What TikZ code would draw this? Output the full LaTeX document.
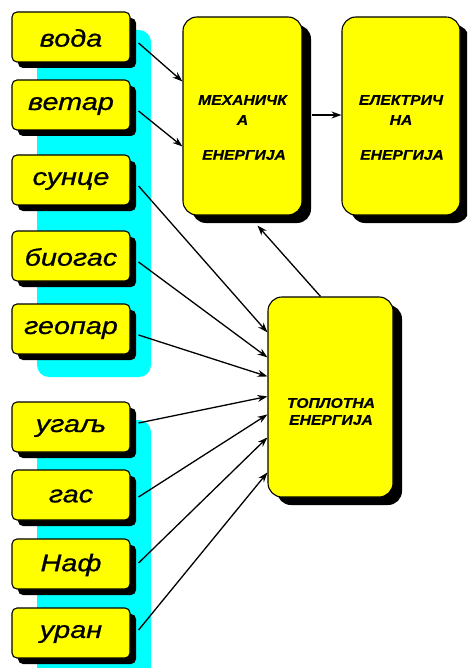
\documentclass[tikz,border=0pt]{standalone}
\usepackage{fontspec}
\newfontfamily\labfont{Liberation Sans}
\newfontfamily\srcfont{Liberation Sans Italic}[FakeBold=0.7]
\newfontfamily\bigfont{Liberation Sans Bold Italic}[FakeBold=0.4]
\usetikzlibrary{shadows,calc,arrows.meta}
\definecolor{boxyellow}{RGB}{255,255,0}
\definecolor{bgcyan}{RGB}{0,255,255}
\tikzset{
  srcbox/.style={draw=black, line width=1.1pt, fill=boxyellow, rounded corners=5pt,
    minimum width=118pt, minimum height=50pt, inner sep=0pt,
    drop shadow={shadow xshift=6pt, shadow yshift=-6pt, fill=black, opacity=1}},
  bigbox/.style={draw=black, line width=1.1pt, fill=boxyellow, rounded corners=14pt,
    inner sep=0pt,
    drop shadow={shadow xshift=9pt, shadow yshift=-8pt, fill=black, opacity=1}},
  srctext/.style={font=\srcfont\fontsize{24}{28}\selectfont, inner sep=0pt},
  bigtext/.style={font=\bigfont\fontsize{14}{16}\selectfont, inner sep=0pt},
  arr/.style={line width=1.3pt, -{Stealth[length=10pt,width=7pt]}},
  bgpanel/.style={fill=bgcyan, rounded corners=12pt}
}
\newcommand{\wide}[1]{\scalebox{1.2}[1]{#1}}
\newcommand{\bwide}[1]{\scalebox{1.12}[1]{#1}}
\begin{document}
\begin{tikzpicture}[x=1pt,y=-1pt]
\useasboundingbox (0,0) rectangle (467,668);
\clip (0,0) rectangle (467,668);
% cyan panels
\path[bgpanel] (37,30) rectangle (151,377);
\path[bgpanel] (37,420) rectangle (151,700);
% source boxes
\node[srcbox] (voda)   at (71,37)  {};
\node[srcbox] (vetar)  at (71,105) {};
\node[srcbox] (sunce)  at (71,180) {};
\node[srcbox] (biogas) at (71,256) {};
\node[srcbox] (geopar) at (71,329) {};
\node[srcbox] (ugalj)  at (71,427) {};
\node[srcbox] (gas)    at (71,495) {};
\node[srcbox] (naf)    at (71,564) {};
\node[srcbox] (uran)   at (71,633) {};
\node[srctext] (tvoda)   at (71,38)  {\wide{вода}};
\node[srctext] (tvetar)  at (71,106) {\wide{ветар}};
\node[srctext] (tsunce)  at (71,181) {\wide{сунце}};
\node[srctext] (tbiogas) at (71,257) {\wide{биогас}};
\node[srctext] (tgeopar) at (71,330) {\wide{геопар}};
\node[srctext] (tugalj)  at (71,428) {\wide{угаљ}};
\node[srctext] (tgas)    at (71,496) {\wide{гас}};
\node[srctext] (tnaf)    at (71,565) {\wide{Наф}};
\node[srctext] (turan)   at (71,634) {\wide{уран}};
% big boxes
\node[bigbox, minimum width=119pt, minimum height=198pt] (mech) at (242.5,116) {};
\node[bigbox, minimum width=118pt, minimum height=198pt] (elec) at (401,116) {};
\node[bigbox, minimum width=125pt, minimum height=200pt] (term) at (330.5,397) {};
\node[bigtext] (m1) at (242.5,100) {\bwide{МЕХАНИЧК}};
\node[bigtext] (m2) at (242.5,120) {\bwide{А}};
\node[bigtext] (m3) at (244,155) {\bwide{ЕНЕРГИЈА}};
\node[bigtext] (e1) at (401,100) {\bwide{ЕЛЕКТРИЧ}};
\node[bigtext] (e2) at (401,120) {\bwide{НА}};
\node[bigtext] (e3) at (402,155) {\bwide{ЕНЕРГИЈА}};
\node[bigtext] (t1) at (331,403) {\bwide{ТОПЛОТНА}};
\node[bigtext] (t2) at (331,420) {\bwide{ЕНЕРГИЈА}};
% arrows
\draw[arr] ($(voda.east)+(8,6)$) -- ($(mech.north west)+(0,65)$);
\draw[arr] ($(vetar.east)+(8,6)$) -- ($(mech.north west)+(0,130)$);
\draw[arr] ($(mech.east)+(9,-1)$) -- ($(elec.west)+(0,-1)$);
\draw[arr] ($(term.north)+(-10,0)$) -- ($(mech.south)+(15,10)$);
\draw[arr] ($(sunce.east)+(8,6)$)  -- ($(term.north west)+(0,36)$);
\draw[arr] ($(biogas.east)+(8,6)$) -- ($(term.north west)+(0,61)$);
\draw[arr] ($(geopar.east)+(8,6)$) -- ($(term.north west)+(0,80)$);
\draw[arr] ($(ugalj.east)+(8,-4)$)  -- ($(term.north west)+(0,100)$);
\draw[arr] ($(gas.east)+(8,2)$)    -- ($(term.north west)+(0,118)$);
\draw[arr] ($(naf.east)+(8,-1)$)    -- ($(term.north west)+(0,141)$);
\draw[arr] ($(uran.east)+(8,-3)$)   -- ($(term.north west)+(0,176)$);
\end{tikzpicture}
\end{document}
